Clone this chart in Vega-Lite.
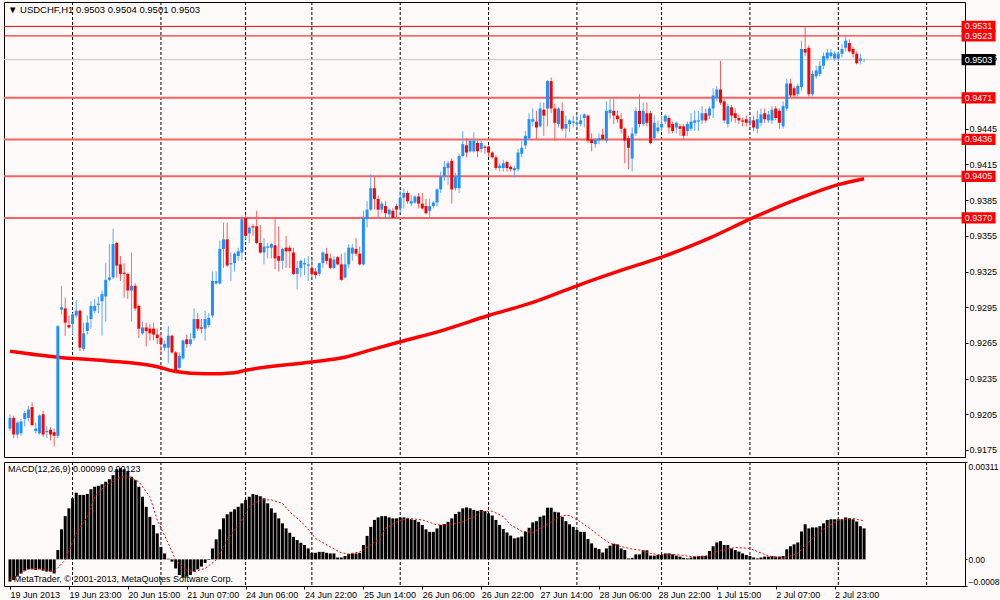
{
  "$schema": "https://vega.github.io/schema/vega-lite/v6.json",
  "background": "#fffafa",
  "padding": {"left": 2, "top": 1, "right": 0, "bottom": 0},
  "spacing": 3,
  "datasets": {
    "bars": [
      {"i":0,"o":0.9193,"h":0.9205,"l":0.9191,"c":0.9202,"m":-0.00071},
      {"i":1,"o":0.9202,"h":0.9204,"l":0.9185,"c":0.9188,"m":-0.00066},
      {"i":2,"o":0.9188,"h":0.9199,"l":0.9185,"c":0.9198,"m":-0.00055},
      {"i":3,"o":0.9189,"h":0.9201,"l":0.9187,"c":0.9199,"m":-0.00045},
      {"i":4,"o":0.9201,"h":0.9208,"l":0.9195,"c":0.9206,"m":-0.00036},
      {"i":5,"o":0.9202,"h":0.9212,"l":0.9199,"c":0.9209,"m":-0.00032},
      {"i":6,"o":0.9211,"h":0.9215,"l":0.9195,"c":0.9196,"m":-0.00032},
      {"i":7,"o":0.9191,"h":0.9198,"l":0.9189,"c":0.9193,"m":-0.00034},
      {"i":8,"o":0.9189,"h":0.9205,"l":0.9188,"c":0.9204,"m":-0.00032},
      {"i":9,"o":0.9205,"h":0.9208,"l":0.9186,"c":0.9188,"m":-0.00036},
      {"i":10,"o":0.9190,"h":0.9195,"l":0.9185,"c":0.9191,"m":-0.00039},
      {"i":11,"o":0.9192,"h":0.9194,"l":0.9183,"c":0.9188,"m":-0.00039},
      {"i":12,"o":0.9190,"h":0.9193,"l":0.9178,"c":0.9187,"m":-0.00045},
      {"i":13,"o":0.9187,"h":0.9280,"l":0.9185,"c":0.9279,"m":0.00030},
      {"i":14,"o":0.9293,"h":0.9313,"l":0.9289,"c":0.9295,"m":0.00096},
      {"i":15,"o":0.9294,"h":0.9303,"l":0.9271,"c":0.9282,"m":0.00138},
      {"i":16,"o":0.9280,"h":0.9288,"l":0.9277,"c":0.9278,"m":0.00163},
      {"i":17,"o":0.9281,"h":0.9290,"l":0.9272,"c":0.9289,"m":0.00195},
      {"i":18,"o":0.9288,"h":0.9301,"l":0.9286,"c":0.9292,"m":0.00213},
      {"i":19,"o":0.9292,"h":0.9293,"l":0.9258,"c":0.9261,"m":0.00206},
      {"i":20,"o":0.9260,"h":0.9282,"l":0.9258,"c":0.9273,"m":0.00206},
      {"i":21,"o":0.9275,"h":0.9288,"l":0.9272,"c":0.9282,"m":0.00209},
      {"i":22,"o":0.9285,"h":0.9300,"l":0.9277,"c":0.9296,"m":0.00224},
      {"i":23,"o":0.9292,"h":0.9302,"l":0.9290,"c":0.9296,"m":0.00232},
      {"i":24,"o":0.9297,"h":0.9304,"l":0.9290,"c":0.9298,"m":0.00235},
      {"i":25,"o":0.9300,"h":0.9309,"l":0.9271,"c":0.9306,"m":0.00240},
      {"i":26,"o":0.9304,"h":0.9332,"l":0.9283,"c":0.9318,"m":0.00248},
      {"i":27,"o":0.9318,"h":0.9348,"l":0.9317,"c":0.9320,"m":0.00256},
      {"i":28,"o":0.9320,"h":0.9361,"l":0.9319,"c":0.9348,"m":0.00269},
      {"i":29,"o":0.9349,"h":0.9350,"l":0.9320,"c":0.9330,"m":0.00288},
      {"i":30,"o":0.9331,"h":0.9338,"l":0.9317,"c":0.9323,"m":0.00291},
      {"i":31,"o":0.9324,"h":0.9332,"l":0.9303,"c":0.9323,"m":0.00288},
      {"i":32,"o":0.9323,"h":0.9324,"l":0.9302,"c":0.9309,"m":0.00280},
      {"i":33,"o":0.9309,"h":0.9341,"l":0.9283,"c":0.9313,"m":0.00264},
      {"i":34,"o":0.9313,"h":0.9315,"l":0.9292,"c":0.9294,"m":0.00253},
      {"i":35,"o":0.9296,"h":0.9297,"l":0.9269,"c":0.9277,"m":0.00232},
      {"i":36,"o":0.9273,"h":0.9283,"l":0.9272,"c":0.9278,"m":0.00200},
      {"i":37,"o":0.9278,"h":0.9282,"l":0.9262,"c":0.9275,"m":0.00168},
      {"i":38,"o":0.9277,"h":0.9281,"l":0.9267,"c":0.9273,"m":0.00136},
      {"i":39,"o":0.9277,"h":0.9282,"l":0.9267,"c":0.9272,"m":0.00110},
      {"i":40,"o":0.9272,"h":0.9277,"l":0.9264,"c":0.9269,"m":0.00083},
      {"i":41,"o":0.9269,"h":0.9273,"l":0.9256,"c":0.9264,"m":0.00040},
      {"i":42,"o":0.9261,"h":0.9267,"l":0.9258,"c":0.9264,"m":0.00019},
      {"i":43,"o":0.9261,"h":0.9279,"l":0.9248,"c":0.9271,"m":0.00002},
      {"i":44,"o":0.9271,"h":0.9272,"l":0.9256,"c":0.9257,"m":-0.00007},
      {"i":45,"o":0.9257,"h":0.9258,"l":0.9240,"c":0.9241,"m":-0.00029},
      {"i":46,"o":0.9244,"h":0.9257,"l":0.9243,"c":0.9254,"m":-0.00050},
      {"i":47,"o":0.9252,"h":0.9268,"l":0.9251,"c":0.9267,"m":-0.00058},
      {"i":48,"o":0.9268,"h":0.9272,"l":0.9261,"c":0.9264,"m":-0.00055},
      {"i":49,"o":0.9264,"h":0.9273,"l":0.9262,"c":0.9268,"m":-0.00050},
      {"i":50,"o":0.9269,"h":0.9294,"l":0.9267,"c":0.9285,"m":-0.00039},
      {"i":51,"o":0.9285,"h":0.9290,"l":0.9275,"c":0.9277,"m":-0.00032},
      {"i":52,"o":0.9278,"h":0.9285,"l":0.9273,"c":0.9277,"m":-0.00023},
      {"i":53,"o":0.9277,"h":0.9292,"l":0.9267,"c":0.9285,"m":-0.00011},
      {"i":54,"o":0.9280,"h":0.9290,"l":0.9278,"c":0.9286,"m":-0.00002},
      {"i":55,"o":0.9288,"h":0.9325,"l":0.9286,"c":0.9317,"m":0.00035},
      {"i":56,"o":0.9315,"h":0.9325,"l":0.9314,"c":0.9317,"m":0.00064},
      {"i":57,"o":0.9315,"h":0.9351,"l":0.9314,"c":0.9344,"m":0.00096},
      {"i":58,"o":0.9344,"h":0.9366,"l":0.9328,"c":0.9352,"m":0.00131},
      {"i":59,"o":0.9352,"h":0.9366,"l":0.9329,"c":0.9330,"m":0.00144},
      {"i":60,"o":0.9331,"h":0.9341,"l":0.9317,"c":0.9332,"m":0.00152},
      {"i":61,"o":0.9332,"h":0.9341,"l":0.9325,"c":0.9340,"m":0.00160},
      {"i":62,"o":0.9338,"h":0.9345,"l":0.9334,"c":0.9342,"m":0.00168},
      {"i":63,"o":0.9341,"h":0.9372,"l":0.9334,"c":0.9369,"m":0.00179},
      {"i":64,"o":0.9370,"h":0.9373,"l":0.9352,"c":0.9355,"m":0.00190},
      {"i":65,"o":0.9357,"h":0.9363,"l":0.9349,"c":0.9362,"m":0.00200},
      {"i":66,"o":0.9363,"h":0.9365,"l":0.9355,"c":0.9362,"m":0.00209},
      {"i":67,"o":0.9363,"h":0.9376,"l":0.9348,"c":0.9349,"m":0.00206},
      {"i":68,"o":0.9349,"h":0.9364,"l":0.9340,"c":0.9341,"m":0.00202},
      {"i":69,"o":0.9341,"h":0.9353,"l":0.9331,"c":0.9346,"m":0.00195},
      {"i":70,"o":0.9345,"h":0.9349,"l":0.9336,"c":0.9346,"m":0.00179},
      {"i":71,"o":0.9345,"h":0.9349,"l":0.9336,"c":0.9348,"m":0.00163},
      {"i":72,"o":0.9347,"h":0.9370,"l":0.9327,"c":0.9336,"m":0.00149},
      {"i":73,"o":0.9338,"h":0.9363,"l":0.9325,"c":0.9334,"m":0.00131},
      {"i":74,"o":0.9334,"h":0.9345,"l":0.9327,"c":0.9344,"m":0.00115},
      {"i":75,"o":0.9345,"h":0.9355,"l":0.9328,"c":0.9342,"m":0.00099},
      {"i":76,"o":0.9345,"h":0.9347,"l":0.9328,"c":0.9342,"m":0.00085},
      {"i":77,"o":0.9341,"h":0.9345,"l":0.9322,"c":0.9323,"m":0.00072},
      {"i":78,"o":0.9323,"h":0.9334,"l":0.9310,"c":0.9328,"m":0.00062},
      {"i":79,"o":0.9328,"h":0.9335,"l":0.9320,"c":0.9334,"m":0.00053},
      {"i":80,"o":0.9331,"h":0.9336,"l":0.9322,"c":0.9332,"m":0.00046},
      {"i":81,"o":0.9330,"h":0.9338,"l":0.9317,"c":0.9331,"m":0.00035},
      {"i":82,"o":0.9328,"h":0.9336,"l":0.9320,"c":0.9323,"m":0.00021},
      {"i":83,"o":0.9325,"h":0.9328,"l":0.9319,"c":0.9322,"m":0.00021},
      {"i":84,"o":0.9323,"h":0.9332,"l":0.9321,"c":0.9332,"m":0.00024},
      {"i":85,"o":0.9332,"h":0.9342,"l":0.9328,"c":0.9341,"m":0.00024},
      {"i":86,"o":0.9340,"h":0.9345,"l":0.9331,"c":0.9334,"m":0.00021},
      {"i":87,"o":0.9336,"h":0.9340,"l":0.9327,"c":0.9328,"m":0.00019},
      {"i":88,"o":0.9328,"h":0.9338,"l":0.9327,"c":0.9335,"m":0.00019},
      {"i":89,"o":0.9337,"h":0.9338,"l":0.9330,"c":0.9331,"m":0.00006},
      {"i":90,"o":0.9331,"h":0.9340,"l":0.9317,"c":0.9318,"m":0.00006},
      {"i":91,"o":0.9320,"h":0.9341,"l":0.9319,"c":0.9331,"m":0.00011},
      {"i":92,"o":0.9331,"h":0.9348,"l":0.9328,"c":0.9345,"m":0.00017},
      {"i":93,"o":0.9340,"h":0.9348,"l":0.9334,"c":0.9345,"m":0.00019},
      {"i":94,"o":0.9344,"h":0.9353,"l":0.9338,"c":0.9340,"m":0.00019},
      {"i":95,"o":0.9340,"h":0.9346,"l":0.9330,"c":0.9331,"m":0.00021},
      {"i":96,"o":0.9331,"h":0.9376,"l":0.9330,"c":0.9370,"m":0.00046},
      {"i":97,"o":0.9369,"h":0.9384,"l":0.9362,"c":0.9377,"m":0.00075},
      {"i":98,"o":0.9377,"h":0.9407,"l":0.9376,"c":0.9395,"m":0.00104},
      {"i":99,"o":0.9395,"h":0.9405,"l":0.9377,"c":0.9386,"m":0.00126},
      {"i":100,"o":0.9386,"h":0.9389,"l":0.9370,"c":0.9377,"m":0.00134},
      {"i":101,"o":0.9377,"h":0.9384,"l":0.9374,"c":0.9382,"m":0.00138},
      {"i":102,"o":0.9380,"h":0.9384,"l":0.9369,"c":0.9374,"m":0.00138},
      {"i":103,"o":0.9373,"h":0.9378,"l":0.9369,"c":0.9377,"m":0.00134},
      {"i":104,"o":0.9376,"h":0.9378,"l":0.9369,"c":0.9370,"m":0.00131},
      {"i":105,"o":0.9380,"h":0.9382,"l":0.9370,"c":0.9377,"m":0.00131},
      {"i":106,"o":0.9378,"h":0.9393,"l":0.9374,"c":0.9387,"m":0.00134},
      {"i":107,"o":0.9387,"h":0.9395,"l":0.9378,"c":0.9391,"m":0.00134},
      {"i":108,"o":0.9391,"h":0.9393,"l":0.9382,"c":0.9384,"m":0.00131},
      {"i":109,"o":0.9382,"h":0.9389,"l":0.9380,"c":0.9384,"m":0.00128},
      {"i":110,"o":0.9383,"h":0.9389,"l":0.9382,"c":0.9388,"m":0.00126},
      {"i":111,"o":0.9388,"h":0.9391,"l":0.9378,"c":0.9382,"m":0.00120},
      {"i":112,"o":0.9382,"h":0.9391,"l":0.9377,"c":0.9378,"m":0.00110},
      {"i":113,"o":0.9380,"h":0.9386,"l":0.9373,"c":0.9374,"m":0.00096},
      {"i":114,"o":0.9376,"h":0.9386,"l":0.9370,"c":0.9380,"m":0.00088},
      {"i":115,"o":0.9380,"h":0.9384,"l":0.9378,"c":0.9383,"m":0.00088},
      {"i":116,"o":0.9383,"h":0.9395,"l":0.9380,"c":0.9394,"m":0.00099},
      {"i":117,"o":0.9394,"h":0.9409,"l":0.9391,"c":0.9405,"m":0.00110},
      {"i":118,"o":0.9405,"h":0.9418,"l":0.9401,"c":0.9413,"m":0.00113},
      {"i":119,"o":0.9412,"h":0.9418,"l":0.9398,"c":0.9416,"m":0.00120},
      {"i":120,"o":0.9418,"h":0.9420,"l":0.9382,"c":0.9394,"m":0.00131},
      {"i":121,"o":0.9395,"h":0.9408,"l":0.9393,"c":0.9405,"m":0.00145},
      {"i":122,"o":0.9395,"h":0.9424,"l":0.9391,"c":0.9422,"m":0.00152},
      {"i":123,"o":0.9422,"h":0.9443,"l":0.9421,"c":0.9432,"m":0.00163},
      {"i":124,"o":0.9431,"h":0.9437,"l":0.9421,"c":0.9425,"m":0.00166},
      {"i":125,"o":0.9426,"h":0.9436,"l":0.9425,"c":0.9435,"m":0.00163},
      {"i":126,"o":0.9426,"h":0.9442,"l":0.9425,"c":0.9435,"m":0.00158},
      {"i":127,"o":0.9433,"h":0.9435,"l":0.9421,"c":0.9426,"m":0.00155},
      {"i":128,"o":0.9428,"h":0.9435,"l":0.9425,"c":0.9433,"m":0.00158},
      {"i":129,"o":0.9430,"h":0.9431,"l":0.9424,"c":0.9429,"m":0.00154},
      {"i":130,"o":0.9430,"h":0.9431,"l":0.9421,"c":0.9425,"m":0.00147},
      {"i":131,"o":0.9425,"h":0.9426,"l":0.9420,"c":0.9421,"m":0.00140},
      {"i":132,"o":0.9421,"h":0.9423,"l":0.9410,"c":0.9412,"m":0.00126},
      {"i":133,"o":0.9412,"h":0.9416,"l":0.9409,"c":0.9414,"m":0.00110},
      {"i":134,"o":0.9412,"h":0.9419,"l":0.9409,"c":0.9416,"m":0.00097},
      {"i":135,"o":0.9417,"h":0.9418,"l":0.9409,"c":0.9412,"m":0.00086},
      {"i":136,"o":0.9413,"h":0.9414,"l":0.9409,"c":0.9411,"m":0.00076},
      {"i":137,"o":0.9410,"h":0.9414,"l":0.9404,"c":0.9412,"m":0.00067},
      {"i":138,"o":0.9411,"h":0.9428,"l":0.9409,"c":0.9425,"m":0.00070},
      {"i":139,"o":0.9424,"h":0.9435,"l":0.9421,"c":0.9429,"m":0.00073},
      {"i":140,"o":0.9431,"h":0.9443,"l":0.9428,"c":0.9439,"m":0.00088},
      {"i":141,"o":0.9437,"h":0.9458,"l":0.9436,"c":0.9453,"m":0.00101},
      {"i":142,"o":0.9451,"h":0.9462,"l":0.9447,"c":0.9453,"m":0.00118},
      {"i":143,"o":0.9451,"h":0.9460,"l":0.9436,"c":0.9446,"m":0.00122},
      {"i":144,"o":0.9447,"h":0.9467,"l":0.9446,"c":0.9462,"m":0.00136},
      {"i":145,"o":0.9461,"h":0.9467,"l":0.9439,"c":0.9456,"m":0.00140},
      {"i":146,"o":0.9462,"h":0.9486,"l":0.9447,"c":0.9485,"m":0.00165},
      {"i":147,"o":0.9485,"h":0.9488,"l":0.9458,"c":0.9462,"m":0.00165},
      {"i":148,"o":0.9462,"h":0.9466,"l":0.9435,"c":0.9450,"m":0.00152},
      {"i":149,"o":0.9449,"h":0.9463,"l":0.9446,"c":0.9462,"m":0.00150},
      {"i":150,"o":0.9460,"h":0.9467,"l":0.9443,"c":0.9445,"m":0.00136},
      {"i":151,"o":0.9445,"h":0.9456,"l":0.9437,"c":0.9449,"m":0.00122},
      {"i":152,"o":0.9449,"h":0.9453,"l":0.9442,"c":0.9452,"m":0.00112},
      {"i":153,"o":0.9450,"h":0.9456,"l":0.9446,"c":0.9451,"m":0.00104},
      {"i":154,"o":0.9449,"h":0.9457,"l":0.9446,"c":0.9450,"m":0.00094},
      {"i":155,"o":0.9449,"h":0.9457,"l":0.9447,"c":0.9452,"m":0.00088},
      {"i":156,"o":0.9454,"h":0.9458,"l":0.9446,"c":0.9457,"m":0.00088},
      {"i":157,"o":0.9456,"h":0.9457,"l":0.9433,"c":0.9435,"m":0.00065},
      {"i":158,"o":0.9436,"h":0.9441,"l":0.9426,"c":0.9433,"m":0.00051},
      {"i":159,"o":0.9432,"h":0.9437,"l":0.9429,"c":0.9436,"m":0.00037},
      {"i":160,"o":0.9435,"h":0.9441,"l":0.9432,"c":0.9437,"m":0.00033},
      {"i":161,"o":0.9440,"h":0.9445,"l":0.9435,"c":0.9436,"m":0.00022},
      {"i":162,"o":0.9435,"h":0.9468,"l":0.9433,"c":0.9460,"m":0.00035},
      {"i":163,"o":0.9458,"h":0.9470,"l":0.9453,"c":0.9461,"m":0.00044},
      {"i":164,"o":0.9460,"h":0.9470,"l":0.9449,"c":0.9456,"m":0.00050},
      {"i":165,"o":0.9456,"h":0.9460,"l":0.9450,"c":0.9453,"m":0.00048},
      {"i":166,"o":0.9453,"h":0.9458,"l":0.9441,"c":0.9445,"m":0.00035},
      {"i":167,"o":0.9445,"h":0.9446,"l":0.9416,"c":0.9435,"m":0.00030},
      {"i":168,"o":0.9437,"h":0.9439,"l":0.9411,"c":0.9429,"m":0.00003},
      {"i":169,"o":0.9420,"h":0.9446,"l":0.9409,"c":0.9441,"m":0.00005},
      {"i":170,"o":0.9441,"h":0.9463,"l":0.9439,"c":0.9460,"m":0.00016},
      {"i":171,"o":0.9460,"h":0.9474,"l":0.9446,"c":0.9449,"m":0.00016},
      {"i":172,"o":0.9449,"h":0.9467,"l":0.9447,"c":0.9460,"m":0.00029},
      {"i":173,"o":0.9458,"h":0.9467,"l":0.9447,"c":0.9450,"m":0.00029},
      {"i":174,"o":0.9458,"h":0.9460,"l":0.9432,"c":0.9433,"m":0.00012},
      {"i":175,"o":0.9437,"h":0.9456,"l":0.9435,"c":0.9450,"m":0.00012},
      {"i":176,"o":0.9443,"h":0.9452,"l":0.9441,"c":0.9446,"m":0.00014},
      {"i":177,"o":0.9446,"h":0.9456,"l":0.9443,"c":0.9449,"m":0.00014},
      {"i":178,"o":0.9451,"h":0.9457,"l":0.9449,"c":0.9456,"m":0.00019},
      {"i":179,"o":0.9454,"h":0.9456,"l":0.9441,"c":0.9446,"m":0.00019},
      {"i":180,"o":0.9449,"h":0.9451,"l":0.9441,"c":0.9443,"m":0.00016},
      {"i":181,"o":0.9446,"h":0.9451,"l":0.9441,"c":0.9450,"m":0.00012},
      {"i":182,"o":0.9447,"h":0.9449,"l":0.9439,"c":0.9445,"m":0.00009},
      {"i":183,"o":0.9447,"h":0.9449,"l":0.9436,"c":0.9439,"m":0.00005},
      {"i":184,"o":0.9443,"h":0.9451,"l":0.9439,"c":0.9449,"m":0.00003},
      {"i":185,"o":0.9445,"h":0.9458,"l":0.9443,"c":0.9451,"m":0.00006},
      {"i":186,"o":0.9450,"h":0.9460,"l":0.9443,"c":0.9452,"m":0.00009},
      {"i":187,"o":0.9451,"h":0.9460,"l":0.9443,"c":0.9452,"m":0.00011},
      {"i":188,"o":0.9452,"h":0.9464,"l":0.9449,"c":0.9458,"m":0.00011},
      {"i":189,"o":0.9458,"h":0.9462,"l":0.9450,"c":0.9452,"m":0.00011},
      {"i":190,"o":0.9456,"h":0.9464,"l":0.9453,"c":0.9462,"m":0.00027},
      {"i":191,"o":0.9462,"h":0.9479,"l":0.9454,"c":0.9473,"m":0.00042},
      {"i":192,"o":0.9471,"h":0.9481,"l":0.9468,"c":0.9478,"m":0.00054},
      {"i":193,"o":0.9478,"h":0.9502,"l":0.9465,"c":0.9467,"m":0.00058},
      {"i":194,"o":0.9468,"h":0.9470,"l":0.9450,"c":0.9452,"m":0.00046},
      {"i":195,"o":0.9449,"h":0.9466,"l":0.9446,"c":0.9464,"m":0.00046},
      {"i":196,"o":0.9463,"h":0.9465,"l":0.9451,"c":0.9456,"m":0.00035},
      {"i":197,"o":0.9458,"h":0.9462,"l":0.9450,"c":0.9454,"m":0.00030},
      {"i":198,"o":0.9454,"h":0.9457,"l":0.9449,"c":0.9452,"m":0.00025},
      {"i":199,"o":0.9452,"h":0.9454,"l":0.9447,"c":0.9451,"m":0.00019},
      {"i":200,"o":0.9453,"h":0.9456,"l":0.9447,"c":0.9450,"m":0.00014},
      {"i":201,"o":0.9450,"h":0.9455,"l":0.9447,"c":0.9452,"m":0.00011},
      {"i":202,"o":0.9452,"h":0.9456,"l":0.9443,"c":0.9446,"m":0.00006},
      {"i":203,"o":0.9445,"h":0.9460,"l":0.9441,"c":0.9453,"m":0.00003},
      {"i":204,"o":0.9450,"h":0.9462,"l":0.9447,"c":0.9457,"m":0.00006},
      {"i":205,"o":0.9458,"h":0.9462,"l":0.9450,"c":0.9453,"m":0.00009},
      {"i":206,"o":0.9452,"h":0.9460,"l":0.9450,"c":0.9457,"m":0.00009},
      {"i":207,"o":0.9452,"h":0.9464,"l":0.9449,"c":0.9461,"m":0.00011},
      {"i":208,"o":0.9462,"h":0.9464,"l":0.9452,"c":0.9454,"m":0.00009},
      {"i":209,"o":0.9460,"h":0.9462,"l":0.9445,"c":0.9450,"m":0.00009},
      {"i":210,"o":0.9447,"h":0.9468,"l":0.9445,"c":0.9464,"m":0.00011},
      {"i":211,"o":0.9462,"h":0.9487,"l":0.9460,"c":0.9483,"m":0.00032},
      {"i":212,"o":0.9483,"h":0.9487,"l":0.9471,"c":0.9473,"m":0.00042},
      {"i":213,"o":0.9479,"h":0.9481,"l":0.9471,"c":0.9473,"m":0.00048},
      {"i":214,"o":0.9474,"h":0.9483,"l":0.9472,"c":0.9481,"m":0.00054},
      {"i":215,"o":0.9480,"h":0.9519,"l":0.9477,"c":0.9512,"m":0.00089},
      {"i":216,"o":0.9512,"h":0.9531,"l":0.9506,"c":0.9509,"m":0.00112},
      {"i":217,"o":0.9513,"h":0.9515,"l":0.9472,"c":0.9474,"m":0.00099},
      {"i":218,"o":0.9474,"h":0.9494,"l":0.9472,"c":0.9491,"m":0.00102},
      {"i":219,"o":0.9489,"h":0.9498,"l":0.9487,"c":0.9494,"m":0.00102},
      {"i":220,"o":0.9491,"h":0.9502,"l":0.9489,"c":0.9498,"m":0.00106},
      {"i":221,"o":0.9498,"h":0.9509,"l":0.9495,"c":0.9506,"m":0.00115},
      {"i":222,"o":0.9504,"h":0.9512,"l":0.9502,"c":0.9509,"m":0.00126},
      {"i":223,"o":0.9506,"h":0.9512,"l":0.9504,"c":0.9509,"m":0.00128},
      {"i":224,"o":0.9504,"h":0.9510,"l":0.9502,"c":0.9508,"m":0.00128},
      {"i":225,"o":0.9504,"h":0.9510,"l":0.9502,"c":0.9508,"m":0.00128},
      {"i":226,"o":0.9508,"h":0.9516,"l":0.9505,"c":0.9512,"m":0.00128},
      {"i":227,"o":0.9513,"h":0.9523,"l":0.9510,"c":0.9519,"m":0.00134},
      {"i":228,"o":0.9517,"h":0.9520,"l":0.9509,"c":0.9510,"m":0.00131},
      {"i":229,"o":0.9512,"h":0.9514,"l":0.9505,"c":0.9508,"m":0.00128},
      {"i":230,"o":0.9508,"h":0.9510,"l":0.9499,"c":0.9500,"m":0.00121},
      {"i":231,"o":0.9502,"h":0.9508,"l":0.9499,"c":0.9504,"m":0.00106},
      {"i":232,"o":0.9503,"h":0.9504,"l":0.9501,"c":0.9503,"m":0.00099}
    ],
    "ma": [
      {"i":0,"v":0.9258},{"i":13,"v":0.9253},{"i":26,"v":0.9250},{"i":40,"v":0.9245},
      {"i":45,"v":0.9241},{"i":53,"v":0.9239},{"i":61,"v":0.9240},{"i":64,"v":0.9242},
      {"i":82,"v":0.9249},{"i":91,"v":0.9253},{"i":99,"v":0.9260},{"i":106,"v":0.9266},
      {"i":118,"v":0.9276},{"i":130,"v":0.9288},{"i":142,"v":0.9299},{"i":154,"v":0.9313},
      {"i":168,"v":0.9328},{"i":177,"v":0.9337},{"i":190,"v":0.9353},{"i":201,"v":0.9369},
      {"i":214,"v":0.9386},{"i":225,"v":0.9398},{"i":232,"v":0.9403}
    ],
    "sig": [
      {"i":0,"v":-0.00066},{"i":5,"v":-0.00029},{"i":8,"v":-0.00029},{"i":12,"v":-0.00039},
      {"i":15,"v":-0.00002},{"i":18,"v":0.00083},{"i":21,"v":0.00136},{"i":23,"v":0.00200},
      {"i":26,"v":0.00237},{"i":30,"v":0.00262},{"i":32,"v":0.00266},{"i":35,"v":0.00248},
      {"i":38,"v":0.00200},{"i":40,"v":0.00126},{"i":43,"v":0.00051},{"i":45,"v":-0.00002},
      {"i":48,"v":-0.00034},{"i":50,"v":-0.00039},{"i":53,"v":-0.00029},{"i":56,"v":-0.00002},
      {"i":59,"v":0.00062},{"i":63,"v":0.00126},{"i":65,"v":0.00168},{"i":68,"v":0.00190},
      {"i":71,"v":0.00190},{"i":74,"v":0.00179},{"i":76,"v":0.00152},{"i":80,"v":0.00110},
      {"i":83,"v":0.00067},{"i":87,"v":0.00040},{"i":90,"v":0.00021},{"i":92,"v":0.00017},
      {"i":95,"v":0.00024},{"i":100,"v":0.00062},{"i":102,"v":0.00099},{"i":105,"v":0.00120},
      {"i":108,"v":0.00131},{"i":112,"v":0.00126},{"i":116,"v":0.00110},{"i":119,"v":0.00110},
      {"i":123,"v":0.00120},{"i":126,"v":0.00136},{"i":128,"v":0.00153},{"i":131,"v":0.00154},
      {"i":134,"v":0.00137},{"i":136,"v":0.00110},{"i":139,"v":0.00090},{"i":142,"v":0.00086},
      {"i":144,"v":0.00099},{"i":147,"v":0.00120},{"i":150,"v":0.00140},{"i":152,"v":0.00140},
      {"i":155,"v":0.00120},{"i":158,"v":0.00094},{"i":161,"v":0.00067},{"i":163,"v":0.00051},
      {"i":166,"v":0.00041},{"i":169,"v":0.00033},{"i":171,"v":0.00030},{"i":174,"v":0.00019},
      {"i":177,"v":0.00014},{"i":179,"v":0.00016},{"i":182,"v":0.00014},{"i":185,"v":0.00009},
      {"i":187,"v":0.00009},{"i":190,"v":0.00012},{"i":192,"v":0.00026},{"i":197,"v":0.00038},
      {"i":201,"v":0.00035},{"i":206,"v":0.00011},{"i":210,"v":0.00003},{"i":214,"v":0.00019},
      {"i":218,"v":0.00067},{"i":222,"v":0.00105},{"i":225,"v":0.00125},{"i":229,"v":0.00131},
      {"i":232,"v":0.00123}
    ],
    "grid": [
      {"i":17},{"i":41},{"i":64},{"i":82},{"i":106},{"i":130},{"i":154},{"i":177},{"i":201},{"i":225},{"i":249}
    ],
    "levels": [
      {"p":0.9531,"k":"thin"},
      {"p":0.9523,"k":"thin"},
      {"p":0.9503,"k":"cur"},
      {"p":0.9471,"k":"thick"},
      {"p":0.9436,"k":"thick"},
      {"p":0.9405,"k":"thick"},
      {"p":0.9370,"k":"thick"}
    ]
  },
  "vconcat": [
    {
      "width": 961,
      "height": 455,
      "title": {"text": "▼ USDCHF,H1  0.9503 0.9504 0.9501 0.9503", "offset": -13, "dx": 4, "fontSize": 9.5},
      "layer": [
        {
          "data": {"name": "grid"},
          "mark": {"type": "rule", "color": "#000000", "strokeWidth": 1, "strokeDash": [3, 2]},
          "encoding": {
            "x": {"field": "i", "type": "quantitative", "scale": {"domain": [-0.269, 258.06], "nice": false, "zero": false}, "axis": null}
          }
        },
        {
          "data": {"name": "levels"},
          "mark": {"type": "rule"},
          "encoding": {
            "y": {
              "field": "p", "type": "quantitative", "title": null,
              "scale": {"domain": [0.91691, 0.95515], "nice": false, "zero": false},
              "axis": {"orient": "right", "values": [0.9175, 0.9205, 0.9235, 0.9265, 0.9295, 0.9325, 0.9355, 0.9385, 0.9415, 0.9445, 0.9505], "format": ".4f", "labelPadding": 1}
            },
            "color": {"condition": [{"test": "datum.k == 'cur'", "value": "#c4c4c4"}, {"test": "datum.k == 'thin'", "value": "#ff0000"}], "value": "#f86262"},
            "strokeWidth": {"condition": {"test": "datum.k == 'thick'", "value": 2}, "value": 1}
          }
        },
        {
          "data": {"name": "ma"},
          "mark": {"type": "line", "color": "#ff0000", "strokeWidth": 3.5, "interpolate": "monotone"},
          "encoding": {
            "x": {"field": "i", "type": "quantitative", "scale": {"domain": [-0.269, 258.06], "nice": false, "zero": false}},
            "y": {"field": "v", "type": "quantitative", "title": null}
          }
        },
        {
          "data": {"name": "bars"},
          "mark": {"type": "rule", "strokeWidth": 1},
          "encoding": {
            "x": {"field": "i", "type": "quantitative", "scale": {"domain": [-0.269, 258.06], "nice": false, "zero": false}},
            "y": {"field": "l", "type": "quantitative", "title": null},
            "y2": {"field": "h"},
            "color": {"condition": {"test": "datum.c >= datum.o", "value": "#5aa8ff"}, "value": "#ff5c5c"}
          }
        },
        {
          "data": {"name": "bars"},
          "mark": {"type": "bar", "width": 3},
          "encoding": {
            "x": {"field": "i", "type": "quantitative", "scale": {"domain": [-0.269, 258.06], "nice": false, "zero": false}},
            "y": {"field": "o", "type": "quantitative", "title": null},
            "y2": {"field": "c"},
            "color": {"condition": {"test": "datum.c >= datum.o", "value": "#1e90ff"}, "value": "#ff0000"}
          }
        },
        {
          "data": {"name": "levels"},
          "mark": {"type": "point", "shape": "M-1,-0.33H1V0.33H-1Z", "size": 1156, "filled": true, "opacity": 1},
          "encoding": {
            "x": {"datum": 263.1, "type": "quantitative"},
            "y": {"field": "p", "type": "quantitative", "title": null},
            "color": {"condition": {"test": "datum.k == 'cur'", "value": "#000000"}, "value": "#ff0000"}
          }
        },
        {
          "data": {"name": "levels"},
          "mark": {"type": "text", "color": "#ffffff", "font": "Liberation Sans", "fontSize": 9, "align": "center", "baseline": "middle"},
          "encoding": {
            "x": {"datum": 263.1, "type": "quantitative"},
            "y": {"field": "p", "type": "quantitative", "title": null},
            "text": {"field": "p", "type": "quantitative", "format": ".4f"}
          }
        }
      ]
    },
    {
      "width": 961,
      "height": 124,
      "title": {"text": "MACD(12,26,9) 0.00099 0.00123", "offset": -12, "dx": 4, "fontSize": 9},
      "layer": [
        {
          "data": {"name": "grid"},
          "mark": {"type": "rule", "color": "#000000", "strokeWidth": 1, "strokeDash": [3, 2]},
          "encoding": {
            "x": {
              "field": "i", "type": "quantitative", "title": null,
              "scale": {"domain": [-0.269, 258.06], "nice": false, "zero": false},
              "axis": {
                "orient": "bottom",
                "values": [0, 16, 32, 48, 64, 80, 96, 112, 128, 144, 160, 176, 192, 208, 224],
                "labelExpr": "['19 Jun 2013','19 Jun 23:00','20 Jun 15:00','21 Jun 07:00','24 Jun 06:00','24 Jun 22:00','25 Jun 14:00','26 Jun 06:00','26 Jun 22:00','27 Jun 14:00','28 Jun 06:00','28 Jun 22:00','1 Jul 15:00','2 Jul 07:00','2 Jul 23:00'][round(datum.value / 16)]",
                "labelAlign": "left",
                "labelFlush": false,
                "labelOverlap": false,
                "labelBound": false,
                "labelPadding": 1
              }
            }
          }
        },
        {
          "data": {"name": "bars"},
          "mark": {"type": "bar", "width": 3, "color": "#000000"},
          "encoding": {
            "x": {"field": "i", "type": "quantitative", "scale": {"domain": [-0.269, 258.06], "nice": false, "zero": false}},
            "y": {
              "field": "m", "type": "quantitative", "title": null,
              "scale": {"domain": [-0.00085, 0.00311], "nice": false, "zero": false},
              "axis": {"orient": "right", "values": [0.00311, 0, -0.00085], "labelExpr": "datum.value == 0 ? '0.00' : format(datum.value, '.5f')", "labelFlush": true, "labelFontSize": 8.5, "labelPadding": 1, "tickSize": 2}
            }
          }
        },
        {
          "data": {"name": "sig"},
          "mark": {"type": "line", "color": "#ff0000", "strokeWidth": 1, "strokeDash": [2, 2]},
          "encoding": {
            "x": {"field": "i", "type": "quantitative", "scale": {"domain": [-0.269, 258.06], "nice": false, "zero": false}},
            "y": {"field": "v", "type": "quantitative", "title": null}
          }
        },
        {
          "data": {"values": [{"t": "MetaTrader, © 2001-2013, MetaQuotes Software Corp."}]},
          "mark": {"type": "text", "align": "left", "baseline": "middle", "font": "Liberation Sans", "fontSize": 9, "color": "#000000"},
          "encoding": {
            "x": {"datum": 1, "type": "quantitative"},
            "y": {"datum": -0.00062, "type": "quantitative"},
            "text": {"field": "t"}
          }
        }
      ]
    }
  ],
  "config": {
    "view": {"stroke": "#000000", "strokeWidth": 1},
    "title": {"font": "Liberation Sans", "fontSize": 9, "fontWeight": "normal", "color": "#000000", "anchor": "start", "frame": "group"},
    "axis": {"labelFont": "Liberation Sans", "labelFontSize": 9, "labelColor": "#000000", "tickColor": "#000000", "tickSize": 3, "labelPadding": 2, "domain": false, "grid": false}
  }
}
